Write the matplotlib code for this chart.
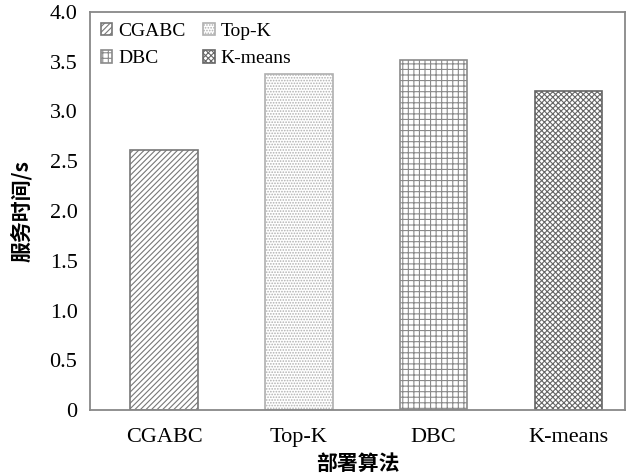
import matplotlib
matplotlib.use("Agg")
import matplotlib.pyplot as plt

# data
algorithms = ["CGABC", "Top-K", "DBC", "K-means"]
service_time = [2.61, 3.38, 3.52, 3.21]
y_ticks = [0, 0.5, 1.0, 1.5, 2.0, 2.5, 3.0, 3.5, 4.0]
y_tick_labels = ["0", "0.5", "1.0", "1.5", "2.0", "2.5", "3.0", "3.5", "4.0"]

hatches = ["//////", "......", "+++", "xxxxxx"]
hatch_colors = ["#777777", "#b0b0b0", "#8a8a8a", "#666666"]

plt.rcParams["font.family"] = ["Liberation Serif", "DejaVu Serif"]
plt.rcParams["hatch.linewidth"] = 0.8

fig = plt.figure(figsize=(6.35, 4.75), dpi=100)
ax = fig.add_axes([90 / 635, 1 - 410 / 475, 535 / 635, 398 / 475])

bars = []
for i, (name, val) in enumerate(zip(algorithms, service_time)):
    b = ax.bar(i, val, width=0.5, facecolor="white", edgecolor=hatch_colors[i],
               hatch=hatches[i], linewidth=1.2, label=name)
    bars.append(b)

ax.set_xlim(-0.55, 3.42)
ax.set_ylim(0, 4.0)
ax.set_xticks(range(len(algorithms)))
ax.set_xticklabels(algorithms, fontsize=16)
ax.set_yticks(y_ticks)
ax.set_yticklabels(y_tick_labels, fontsize=16)
ax.tick_params(axis="y", length=0, pad=9)
ax.tick_params(axis="x", length=0, pad=13)

for sp in ax.spines.values():
    sp.set_color("#888888")
    sp.set_linewidth(1.3)

cjk = ["Noto Sans CJK SC", "DejaVu Sans"]
ax.set_ylabel("服务时间/s", fontsize=15, fontweight="bold", family=cjk, labelpad=13)
ax.set_xlabel("部署算法", fontsize=15, fontweight="bold", family=cjk, labelpad=4)

# legend filled row by row: CGABC, Top-K / DBC, K-means
order = [0, 2, 1, 3]
ax.legend([bars[k] for k in order], [algorithms[k] for k in order],
          loc="upper left", ncol=2, frameon=False, fontsize=14,
          handlelength=0.6, handleheight=0.6, handletextpad=0.3,
          columnspacing=0.9, borderaxespad=0.15, labelspacing=0.55)

fig.savefig("out.png", dpi=100)
